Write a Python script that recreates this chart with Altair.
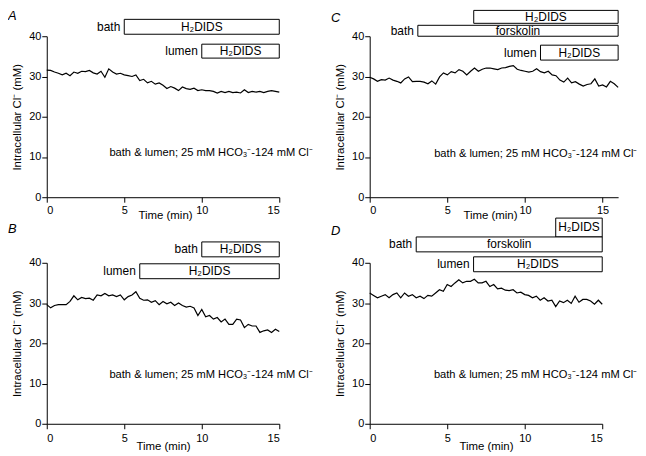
import altair as alt
import pandas as pd

FONT = "Liberation Sans"

# ---------------- data ----------------
A_cl = [31.6, 31.5, 31.1, 30.8, 30.4, 30.8, 30.2, 31.1, 30.8, 31.3, 31.2, 31.5, 30.9, 30.6, 31.3, 29.8,
        31.9, 31.1, 30.6, 30.8, 30.4, 30.2, 30.0, 30.4, 29.0, 29.3, 28.4, 28.8, 28.1, 28.4, 27.8, 27.0,
        27.5, 27.1, 26.5, 27.4, 27.0, 26.8, 27.1, 26.5, 26.7, 26.5, 26.5, 26.3, 25.9, 26.3, 26.0, 26.3,
        26.0, 26.1, 25.9, 26.7, 26.0, 26.3, 26.1, 26.3, 26.0, 26.3, 26.5, 26.3, 26.1]
B_cl = [29.6, 28.8, 29.4, 29.6, 29.6, 29.6, 30.4, 31.8, 30.8, 31.4, 31.1, 31.2, 30.7, 32.0, 31.8, 32.4,
        31.8, 32.0, 31.6, 32.0, 30.8, 31.6, 32.0, 32.8, 31.2, 30.7, 30.8, 30.2, 30.6, 29.6, 30.4, 29.8,
        30.2, 29.4, 30.0, 29.4, 29.0, 29.2, 28.8, 26.9, 28.4, 26.6, 26.9, 26.0, 26.4, 25.3, 26.0, 24.7,
        24.7, 26.0, 25.8, 23.9, 24.7, 24.3, 24.3, 22.7, 23.1, 23.3, 22.7, 23.5, 22.9]
C_cl = [29.8, 29.4, 28.8, 29.2, 29.1, 29.6, 29.1, 28.8, 28.4, 29.4, 29.9, 28.7, 28.8, 28.8, 28.6, 28.2,
        28.9, 28.1, 29.9, 30.9, 30.4, 31.2, 30.9, 31.7, 31.3, 30.4, 31.3, 32.1, 31.3, 31.8, 32.1, 32.1,
        31.9, 31.7, 32.1, 32.2, 32.5, 32.7, 31.8, 31.5, 31.3, 31.1, 31.3, 31.9, 31.2, 30.9, 31.3, 30.4,
        30.2, 29.1, 28.6, 29.6, 28.4, 28.7, 28.1, 27.6, 28.0, 28.2, 29.4, 27.6, 27.9, 27.4, 28.8, 28.2,
        27.3]
D_cl = [32.5, 31.9, 31.3, 31.7, 32.1, 31.3, 32.1, 32.5, 31.3, 32.5, 31.7, 32.1, 31.3, 31.7, 31.1, 31.9,
        31.7, 32.5, 33.3, 32.9, 34.6, 34.1, 35.0, 35.8, 35.0, 35.4, 35.4, 35.9, 35.0, 35.0, 35.4, 34.1,
        34.6, 33.5, 33.7, 33.2, 33.1, 33.3, 32.5, 32.7, 32.1, 31.9, 31.3, 31.7, 30.7, 31.3, 30.5, 30.7,
        29.1, 30.5, 30.1, 30.7, 29.9, 31.7, 30.2, 30.9, 30.9, 30.5, 29.7, 30.7, 29.7]

SAMPLE_MIN = 0.25  # sampling interval (min)

# treatment bars: (side label, bar text, start min, end min)
A_bars = [("bath", "H\u2082DIDS", 5, 15), ("lumen", "H\u2082DIDS", 10, 15)]
B_bars = [("bath", "H\u2082DIDS", 10, 15), ("lumen", "H\u2082DIDS", 6, 15)]
C_bars = [("", "H\u2082DIDS", 6.7, 16), ("bath", "forskolin", 3.1, 16), ("lumen", "H\u2082DIDS", 11, 16)]
D_bars = [("", "H\u2082DIDS", 12, 15), ("bath", "forskolin", 3, 15), ("lumen", "H\u2082DIDS", 6.7, 15)]

X_TICKS = [0, 5, 10, 15]
Y_TICKS = [0, 10, 20, 30, 40]
NOTE = "bath & lumen; 25 mM HCO\u2083\u207b-124 mM Cl\u207b"
Y_TITLE = "Intracellular Cl\u207b (mM)"

# ---------------- layout (pixels) ----------------
A_rows = [(-17, -2), (8, 22)]
B_rows = [(-21, -6), (1, 16)]
C_rows = [(-26, -13), (-11, 0), (9, 24)]
D_rows = [(-45, -26), (-26, -11), (-6, 9)]


def panel(letter, cl, xmax, width, bars, rows, note_xy, title_y, title_x, label_pad, letter_top):
    df = pd.DataFrame({"t": [i * SAMPLE_MIN for i in range(len(cl))], "cl": cl})
    xscale = alt.Scale(domain=[0, xmax], nice=False, zero=False)
    xaxis = alt.Axis(values=X_TICKS, title="Time (min)", titleY=title_y, titleX=title_x,
                     titleBaseline="top", titleAlign="center", labelPadding=label_pad)
    yaxis = alt.Axis(values=Y_TICKS, title=Y_TITLE, titleX=-24, titleBaseline="bottom",
                     labelPadding=1)
    line = alt.Chart(df).mark_line(color="black", strokeWidth=1.2).encode(
        x=alt.X("t:Q", scale=xscale, axis=xaxis),
        y=alt.Y("cl:Q", scale=alt.Scale(domain=[0, 40], nice=False), axis=yaxis),
    )
    layers = [line]
    for (side, label, start, end), (top, bottom) in zip(bars, rows):
        bdf = pd.DataFrame({"start": [start], "end": [end], "label": [label], "side": [side]})
        base = alt.Chart(bdf)
        layers.append(base.mark_rect(fill="white", stroke="black", strokeWidth=1).encode(
            x=alt.X("start:Q", title="Time (min)"), x2="end:Q",
            y=alt.value(top), y2=alt.value(bottom)))
        layers.append(base.transform_calculate(mid="(datum.start + datum.end) / 2").mark_text(
            fontSize=12, baseline="middle", align="center", color="black").encode(
            x=alt.X("mid:Q", title="Time (min)"), y=alt.value((top + bottom) / 2), text="label:N"))
        if side:
            layers.append(base.mark_text(fontSize=12, baseline="middle", align="right", dx=-4,
                                         color="black").encode(
                x=alt.X("start:Q", title="Time (min)"), y=alt.value((top + bottom) / 2),
                text="side:N"))
    layers.append(alt.Chart(pd.DataFrame({"n": [NOTE]})).mark_text(
        fontSize=11.2, align="center", baseline="middle", color="black").encode(
        x=alt.datum(note_xy[0]), y=alt.datum(note_xy[1]), text="n:N"))
    layers.append(alt.Chart(pd.DataFrame({"l": [letter]})).mark_text(
        fontSize=13, fontStyle="italic", align="left", baseline="top", color="black").encode(
        x=alt.value(-39), y=alt.value(letter_top), text="l:N"))
    return alt.layer(*layers).properties(width=width, height=162)


pA = panel("A", A_cl, 15, 234, A_bars, A_rows, (10.6, 11.0), 12, 119, 2, -26)
pC = panel("C", C_cl, 16, 250, C_bars, C_rows, (10.7, 10.8), 12, 121, 2, -24)
pB = panel("B", B_cl, 15, 234, B_bars, B_rows, (10.6, 12.1), 17, 117, 4, -40)
pD = panel("D", D_cl, 15, 234, D_bars, D_rows, (10.7, 12.1), 17, 117, 4, -38)

chart = alt.concat(pA, pC, pB, pD, columns=2, spacing={"row": 66, "column": 91},
                   bounds="flush").properties(padding=0).configure_view(stroke=None).configure_axis(
    grid=False, labelFont=FONT, titleFont=FONT, labelFontSize=11, titleFontSize=11.5,
    titleFontWeight="normal", labelColor="black", titleColor="black", domainColor="black",
    tickColor="black", tickSize=5, domainWidth=1, tickWidth=1).configure_text(font=FONT)

chart.save("out.html", embed_options={"renderer": "svg", "actions": False})
